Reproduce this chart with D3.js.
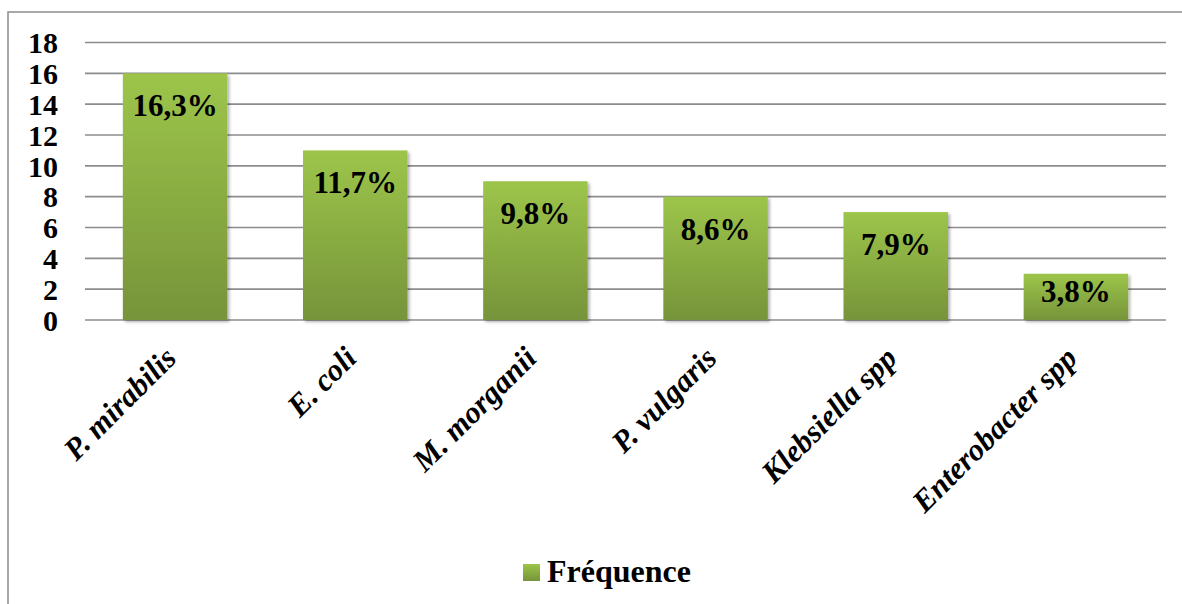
<!DOCTYPE html>
<html><head><meta charset="utf-8">
<script src="https://cdn.jsdelivr.net/npm/d3@7"></script>
<style>html,body{margin:0;padding:0;background:#fff;}svg{display:block;}</style>
</head><body>
<script>
const categories = ["P. mirabilis","E. coli","M. morganii","P. vulgaris","Klebsiella spp","Enterobacter spp"];
const values = [16, 11, 9, 8, 7, 3];
const labels = ["16,3%","11,7%","9,8%","8,6%","7,9%","3,8%"];
const yTicks = [0,2,4,6,8,10,12,14,16,18];
const seriesName = "Fréquence";

const W = 1182, H = 604;
const svg = d3.select("body").append("svg").attr("width", W).attr("height", H);
const defs = svg.append("defs");
const grad = defs.append("linearGradient").attr("id","g").attr("x1",0).attr("y1",0).attr("x2",0).attr("y2",1);
grad.append("stop").attr("offset","0%").attr("stop-color","#9dc54a");
grad.append("stop").attr("offset","100%").attr("stop-color","#76943a");
const f = defs.append("filter").attr("id","sh").attr("x","-10%").attr("y","-10%").attr("width","130%").attr("height","130%");
f.append("feDropShadow").attr("dx",2).attr("dy",2).attr("stdDeviation",1.8).attr("flood-color","#000").attr("flood-opacity",0.3);

svg.append("rect").attr("x",8).attr("y",12).attr("width",1300).attr("height",800)
  .attr("fill","none").attr("stroke","#8c8c8c").attr("stroke-width",1.5);

const x = d3.scaleBand().domain(categories).range([85,1166]).paddingInner(0.42).paddingOuter(0.21);
const y = d3.scaleLinear().domain([0,18]).range([320,42.5]);

const font = '"Liberation Serif", "Times New Roman", serif';

// gridlines
svg.append("g").selectAll("line").data(yTicks).join("line")
  .attr("x1",85).attr("x2",1166).attr("y1",d=>y(d)).attr("y2",d=>y(d))
  .attr("stroke","#8c8c8c").attr("stroke-width",1.6);

// y axis labels
const yAxis = d3.axisLeft(y).tickValues(yTicks).tickSize(0).tickPadding(0).tickFormat(d3.format("d"));
const ya = svg.append("g").attr("transform","translate(58,0)").call(yAxis);
ya.select(".domain").remove();
ya.selectAll("text").style("font-family",font).style("font-weight","bold").style("font-size","30px")
  .attr("fill","#000").attr("dy","0.34em");

// bars
svg.append("g").selectAll("rect").data(values).join("rect")
  .attr("x",(d,i)=>x(categories[i])).attr("width",x.bandwidth())
  .attr("y",d=>y(d)).attr("height",d=>y(0)-y(d))
  .attr("fill","url(#g)").attr("filter","url(#sh)");

// data labels
svg.append("g").selectAll("text").data(values).join("text")
  .attr("x",(d,i)=>x(categories[i])+x.bandwidth()/2)
  .attr("y",d=>Math.min(y(d)+43, y(0)-18))
  .attr("text-anchor","middle").style("font-family",font).style("font-weight","bold")
  .style("font-size","31px").attr("fill","#000").text((d,i)=>labels[i]);

// x labels
const xAxis = d3.axisBottom(x).tickSize(0).tickPadding(0);
const xa = svg.append("g").call(xAxis);
xa.select(".domain").remove();
xa.selectAll(".tick").attr("transform",d=>`translate(${x(d)+x.bandwidth()/2+3},360)`);
xa.selectAll("text").attr("y",0).attr("dy",0).attr("transform","rotate(-45)")
  .attr("text-anchor","end").style("font-family",font).style("font-weight","bold")
  .style("font-style","italic").style("font-size","31px").attr("fill","#000");

// legend
svg.append("rect").attr("x",523).attr("y",564).attr("width",17).attr("height",17).attr("fill","url(#g)");
svg.append("text").attr("x",547).attr("y",582).style("font-family",font).style("font-weight","bold")
  .style("font-size","32px").attr("fill","#000").text(seriesName);
</script>
</body></html>
